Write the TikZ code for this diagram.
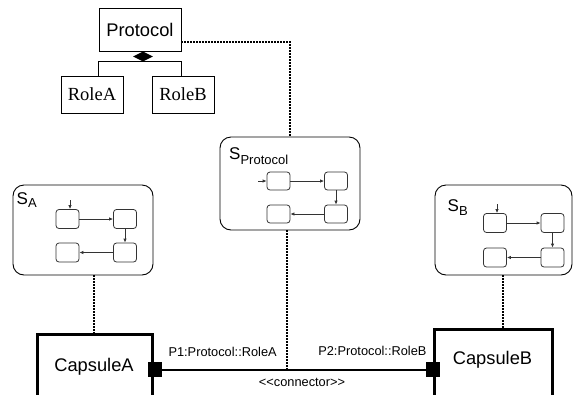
\documentclass[tikz,border=0pt]{standalone}
\usepackage{fontspec}
\setmainfont{Liberation Sans}
\newfontfamily\serifrm{Liberation Serif}
\usetikzlibrary{arrows.meta,shapes.geometric}
\tikzset{
  umlbox/.style={draw,line width=0.9pt,inner sep=0pt,minimum height=37pt},
  container/.style={draw,line width=0.9pt,rounded corners=11pt,inner sep=0pt},
  stbox/.style={draw=black!80,line width=0.8pt,rounded corners=3pt,inner sep=0pt,minimum width=23pt,minimum height=19pt},
  starr/.style={draw=black!80,line width=0.8pt,-{Latex[length=4pt,width=3.5pt]}},
  dotline/.style={line width=2pt,dash pattern=on 1.6pt off 1.4pt},
  capsule/.style={draw,line width=3pt},
  port/.style={fill=black,inner sep=0pt,minimum width=14pt,minimum height=15pt},
  bigsans/.style={font=\fontsize{18.3}{20}\selectfont},
  smallsans/.style={font=\fontsize{12.8}{14}\selectfont}
}
\begin{document}
\begin{tikzpicture}[x=1pt,y=-1pt]
\useasboundingbox (0,0) rectangle (575,394);
\clip (0,0) rectangle (575,394);
% UML class part
\node[umlbox,bigsans,minimum width=82pt,minimum height=43pt] (protocol) at (140,29.5) {Protocol};
\node[umlbox,minimum width=62pt,font=\serifrm\fontsize{18.5}{20}\selectfont] (roleA) at (92,94.5) {RoleA};
\node[umlbox,minimum width=62pt,font=\serifrm\fontsize{18.5}{20}\selectfont] (roleB) at (183,94.5) {RoleB};
\node[diamond,fill=black,inner sep=0pt,minimum width=20pt,minimum height=10pt] (dia) at (143,56.5) {};
\draw[line width=0.9pt] (roleA.north -| protocol.west) |- (dia.south) -| (roleB.north -| protocol.east);
% state machine containers
\node[container,minimum width=140pt,minimum height=93pt] (sP) at (290,183.5) {};
\node[container,minimum width=140pt,minimum height=90pt] (sA) at (83,230) {};
\node[container,minimum width=137pt,minimum height=90pt] (sB) at (503.5,230) {};
\node[anchor=base west,inner sep=0pt] (sPlabel) at (229,159) {\fontsize{17}{17}\selectfont S\raisebox{-5pt}{\fontsize{13}{13}\selectfont Protocol}};
\node[anchor=base west,inner sep=0pt] (sAlabel) at (16.5,204) {\fontsize{17}{17}\selectfont S\raisebox{-3.5pt}{\fontsize{13}{13}\selectfont A}};
\node[anchor=base west,inner sep=0pt] (sBlabel) at (447.5,211) {\fontsize{17}{17}\selectfont S\raisebox{-4pt}{\fontsize{13}{13}\selectfont B}};
% states in S_Protocol
\node[stbox,minimum height=18pt] (p1) at (278.5,181) {};
\node[stbox,minimum height=18pt] (p2) at (336,181) {};
\node[stbox,minimum height=18pt] (p3) at (336,214) {};
\node[stbox,minimum height=18pt] (p4) at (278.5,214) {};
\coordinate (pinit) at (258,181);
\draw[starr] (pinit) -- (p1);
\draw[starr] (p1) -- (p2);
\draw[starr] (p2) -- (p3);
\draw[starr] (p3) -- (p4);
% states in S_A
\node[stbox] (a1) at (67.5,219) {};
\node[stbox] (a2) at (125,219) {};
\node[stbox] (a3) at (125,252.5) {};
\node[stbox] (a4) at (67.5,252.5) {};
\coordinate (ainit) at (70,200);
\draw[starr] (ainit) -- (ainit |- a1.north);
\draw[starr] (a1) -- (a2);
\draw[starr] (a2) -- (a3);
\draw[starr] (a3) -- (a4);
% states in S_B
\node[stbox] (b1) at (495,223) {};
\node[stbox] (b2) at (552.5,223) {};
\node[stbox] (b3) at (552.5,257.5) {};
\node[stbox] (b4) at (495,257.5) {};
\coordinate (binit) at (497,204);
\draw[starr] (binit) -- (binit |- b1.north);
\draw[starr] (b1) -- (b2);
\draw[starr] (b2) -- (b3);
\draw[starr] (b3) -- (b4);
% capsules
\draw[capsule] (37,420) |- (152,334) -- (152,420);
\coordinate (capAtop) at (94,334);
\node[bigsans] (capA) at (94,367) {CapsuleA};
\draw[capsule] (434,420) |- (552,329) -- (552,420);
\coordinate (capBtop) at (503,329);
\node[bigsans] (capB) at (492.5,360) {CapsuleB};
\node[port] (portA) at (154.5,369.5) {};
\node[port] (portB) at (433,369.5) {};
\draw[line width=2pt] (portA) -- (portB);
\coordinate (conn) at (287,369.5);
\node[smallsans,anchor=west] (p1lab) at (165,352) {P1:Protocol::RoleA};
\node[smallsans,anchor=east] (p2lab) at (430,351) {P2:Protocol::RoleB};
\node[smallsans] (connlab) at (302,382) {<{}<connector>{}>};
% dotted dependencies
\draw[dotline] (protocol.east |- 0,42) -| (sP.north);
\draw[dotline] (sP.south -| conn) -- (conn);
\draw[dotline] (sA.south -| capAtop) -- (capAtop);
\draw[dotline] (sB.south -| capBtop) -- (capBtop);
\end{tikzpicture}
\end{document}
